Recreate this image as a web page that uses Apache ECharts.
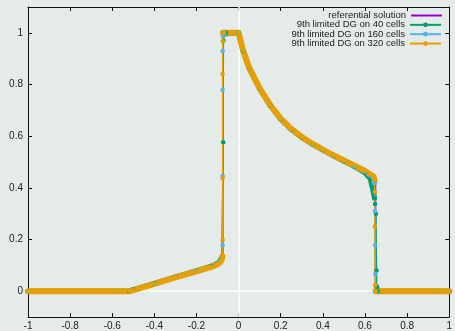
<!DOCTYPE html>
<html lang="en">
<head>
    <meta charset="UTF-8">
    <title>9th limited DG</title>
    <script src="https://cdn.jsdelivr.net/npm/echarts@6/dist/echarts.min.js"></script>
    <style>
        html, body { margin: 0; padding: 0; background: #e4ebe9; }
        #main { width: 455px; height: 331px; }
    </style>
</head>
<body>
    <div id="main"></div>
    <script type="text/javascript">
        // tick labels
        var xTicks = [-1, -0.8, -0.6, -0.4, -0.2, 0, 0.2, 0.4, 0.6, 0.8, 1];
        var yTicks = [0, 0.2, 0.4, 0.6, 0.8, 1];
        var names = ['referential solution', '9th limited DG on 40 cells', '9th limited DG on 160 cells', '9th limited DG on 320 cells'];

        // referential solution
        var refX = [-1, -0.515, -0.4, -0.3, -0.2, -0.13, -0.1, -0.088, -0.08, -0.075, -0.075, 0, 0.02, 0.05, 0.1, 0.15, 0.2, 0.25, 0.3, 0.35, 0.4, 0.45, 0.5, 0.55, 0.6, 0.64, 0.65, 0.65, 1];
        var refY = [0, 0, 0.028, 0.053, 0.077, 0.094, 0.104, 0.112, 0.122, 0.135, 1, 1, 0.935, 0.865, 0.785, 0.72, 0.668, 0.628, 0.597, 0.571, 0.548, 0.526, 0.506, 0.486, 0.465, 0.447, 0.44, 0, 0];

        // 40 cells
        var dg40X = [-1, -0.52, -0.5, -0.4, -0.3, -0.2, -0.13, -0.1, -0.088, -0.08, -0.073, -0.072, -0.068, -0.06, 0, 0.02, 0.05, 0.1, 0.15, 0.2, 0.25, 0.3, 0.35, 0.4, 0.45, 0.5, 0.55, 0.6, 0.625, 0.64, 0.645, 0.648, 0.652, 0.655, 0.656, 0.66, 1];
        var dg40Y = [0, 0, 0.006, 0.03, 0.055, 0.079, 0.097, 0.108, 0.118, 0.13, 0.576, 0.97, 0.995, 1, 1, 0.933, 0.863, 0.783, 0.719, 0.666, 0.626, 0.595, 0.569, 0.546, 0.524, 0.503, 0.482, 0.458, 0.435, 0.38, 0.36, 0.337, 0.3, 0.08, 0.017, 0, 0];

        // 160 cells
        var dg160X = [-1, -0.518, -0.5, -0.4, -0.3, -0.2, -0.13, -0.1, -0.088, -0.08, -0.076, -0.076, -0.076, -0.076, -0.074, -0.07, 0, 0.02, 0.05, 0.1, 0.15, 0.2, 0.25, 0.3, 0.35, 0.4, 0.45, 0.5, 0.55, 0.6, 0.635, 0.645, 0.647, 0.648, 0.649, 0.652, 1];
        var dg160Y = [0, 0, 0.005, 0.029, 0.054, 0.078, 0.095, 0.106, 0.115, 0.128, 0.178, 0.446, 0.78, 0.93, 0.99, 1, 1, 0.934, 0.864, 0.784, 0.72, 0.667, 0.627, 0.596, 0.57, 0.547, 0.525, 0.505, 0.484, 0.463, 0.442, 0.42, 0.31, 0.178, 0.066, 0, 0];

        // 320 cells
        var dg320X = [-1, -0.516, -0.5, -0.4, -0.3, -0.2, -0.13, -0.1, -0.088, -0.08, -0.077, -0.076, -0.076, -0.076, -0.075, -0.074, -0.07, 0, 0.02, 0.05, 0.1, 0.15, 0.2, 0.25, 0.3, 0.35, 0.4, 0.45, 0.5, 0.55, 0.6, 0.64, 0.646, 0.647, 0.647, 0.648, 0.65, 1];
        var dg320Y = [0, 0, 0.004, 0.028, 0.053, 0.077, 0.094, 0.104, 0.112, 0.122, 0.135, 0.198, 0.438, 0.841, 0.969, 1, 1, 1, 0.935, 0.865, 0.785, 0.72, 0.668, 0.628, 0.597, 0.571, 0.548, 0.526, 0.506, 0.486, 0.465, 0.445, 0.43, 0.384, 0.25, 0.023, 0, 0];

        var colors = ['#9400d3', '#009e73', '#56b4e9', '#e69f00'];
        var bandWidth = [0, 5, 5, 6];
        var font = 'Liberation Sans, Arial, sans-serif';

        function pairs(xs, ys) {
            return xs.map(function (x, i) { return [x, ys[i]]; });
        }
        // the dense points make a thick band, except inside the jumps
        function band(xs, ys) {
            var out = [];
            for (var i = 0; i < xs.length; i++) {
                if (i > 0) {
                    var dx = Math.abs(xs[i] - xs[i - 1]), dy = Math.abs(ys[i] - ys[i - 1]);
                    if (dy > 5 * dx) out.push([xs[i], '-']);
                }
                out.push([xs[i], ys[i]]);
            }
            return out;
        }
        function dgSeries(k, xs, ys) {
            return [{
                name: names[k], type: 'line', data: pairs(xs, ys),
                symbol: 'circle', symbolSize: 4.5, silent: true,
                lineStyle: { color: colors[k], width: 1.3 }, itemStyle: { color: colors[k] }
            }, {
                name: names[k], type: 'line', data: band(xs, ys),
                symbol: 'none', connectNulls: false, silent: true,
                lineStyle: { color: colors[k], width: bandWidth[k], cap: 'round', join: 'round' }
            }];
        }

        var series = [{
            // white zero axes, kept under the curves
            type: 'line', data: [], z: 1, silent: true,
            markLine: {
                silent: true, symbol: 'none', animation: false, z: 1,
                label: { show: false },
                lineStyle: { color: '#ffffff', width: 1.5, type: 'solid' },
                data: [{ xAxis: 0 }, { yAxis: 0 }]
            }
        }, {
            name: names[0], type: 'line', data: pairs(refX, refY),
            symbol: 'none', silent: true,
            lineStyle: { color: colors[0], width: 1.5 }, itemStyle: { color: colors[0] }
        }];
        series = series.concat(dgSeries(1, dg40X, dg40Y));
        series = series.concat(dgSeries(2, dg160X, dg160Y));
        series = series.concat(dgSeries(3, dg320X, dg320Y));

        var axisLine = { show: true, onZero: false, lineStyle: { color: '#111', width: 1 } };
        var myChart = echarts.init(document.getElementById('main'));
        var option = {
            animation: false,
            backgroundColor: '#e4ebe9',
            grid: { left: 28, right: 3, top: 7, bottom: 14 },
            legend: names.map(function (n, i) {
                return {
                    data: [i === 0 ? { name: n, icon: 'rect' } : n],
                    right: 13, top: 10.5 + i * 9.35, orient: 'vertical', align: 'right',
                    padding: 0, itemWidth: 31, itemHeight: i === 0 ? 2 : 6, selectedMode: false,
                    textStyle: { fontSize: 9.5, color: '#222', fontFamily: font, lineHeight: 10 }
                };
            }),
            xAxis: [{
                type: 'value', min: -1, max: 1, position: 'bottom',
                axisLine: axisLine,
                axisTick: { inside: true, length: 4, customValues: xTicks, lineStyle: { color: '#111' } },
                axisLabel: { customValues: xTicks, margin: 4, color: '#222', fontSize: 10, fontFamily: font },
                splitLine: { show: false }
            }, {
                type: 'value', min: -1, max: 1, position: 'top',
                axisLine: axisLine,
                axisTick: { inside: true, length: 4, customValues: xTicks, lineStyle: { color: '#111' } },
                axisLabel: { show: false },
                splitLine: { show: false }
            }],
            yAxis: [{
                type: 'value', min: -0.1, max: 1.1, position: 'left',
                axisLine: axisLine,
                axisTick: { inside: true, length: 4, customValues: yTicks, lineStyle: { color: '#111' } },
                axisLabel: { customValues: yTicks, margin: 5, color: '#222', fontSize: 10, fontFamily: font },
                splitLine: { show: false }
            }, {
                type: 'value', min: -0.1, max: 1.1, position: 'right',
                axisLine: axisLine,
                axisTick: { inside: true, length: 4, customValues: yTicks, lineStyle: { color: '#111' } },
                axisLabel: { show: false },
                splitLine: { show: false }
            }],
            series: series
        };
        myChart.setOption(option);
    </script>
</body>
</html>
